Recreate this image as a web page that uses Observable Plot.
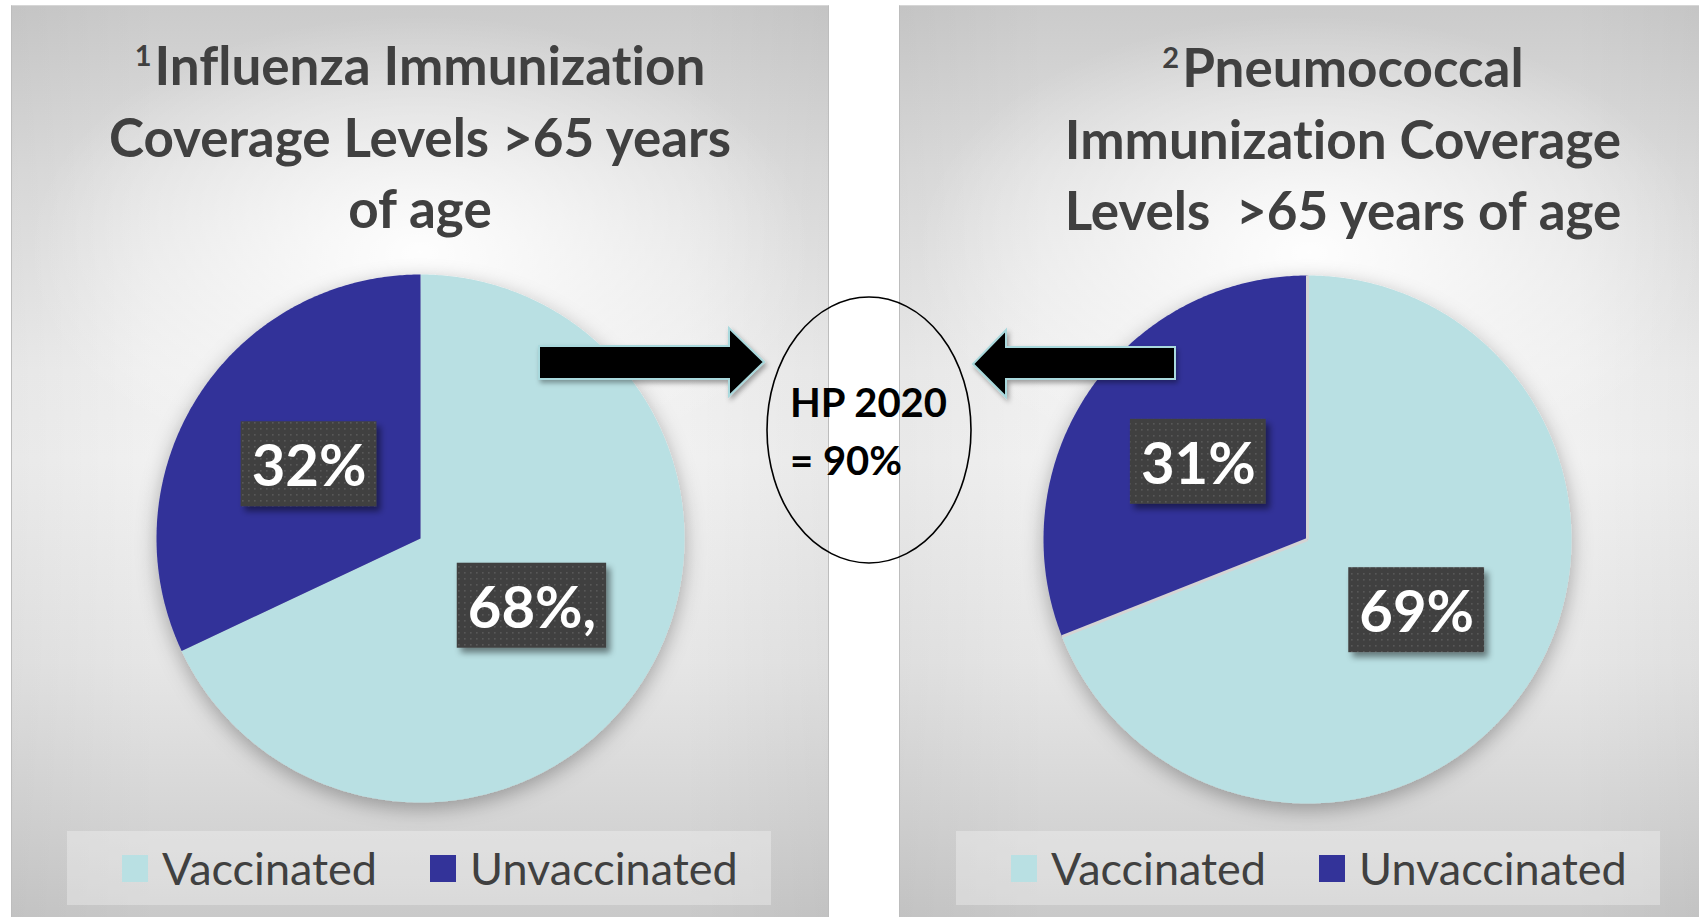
<!DOCTYPE html>
<html>
<head>
<meta charset="utf-8">
<script src="https://cdn.jsdelivr.net/npm/d3@7"></script>
<script src="https://cdn.jsdelivr.net/npm/@observablehq/plot@0.6"></script>
<style>
  html, body { margin: 0; padding: 0; background: #ffffff; }
  #root { position: relative; width: 1699px; height: 917px; overflow: hidden; font-family: Lato, "Noto Sans", sans-serif;
    font-variant-ligatures: none; font-feature-settings: "liga" 0, "clig" 0; }
  .panel {
    position: absolute; top: 5px; height: 912px; box-sizing: border-box;
    border-left: 1.5px solid #bdbdbd; border-top: 1px solid #d6d6d6;
    background:
      radial-gradient(ellipse 48% 26% at 50% 27%, rgba(255,255,255,0.95) 0%, rgba(255,255,255,0) 100%),
      linear-gradient(to right, rgba(0,0,0,0.035) 0%, rgba(0,0,0,0) 18%, rgba(0,0,0,0) 82%, rgba(0,0,0,0.035) 100%),
      linear-gradient(to bottom, #cbcbcb 0%, #dedede 18%, #efefef 40%, #f1f1f1 50%, #e6e6e6 72%, #d6d6d6 88%, #c9c9c9 100%);
  }
  .title {
    position: absolute; width: 820px; text-align: center; font-weight: 700; color: #404040;
    font-size: 53px; line-height: 71.5px; white-space: pre;
  }
  .title .line { height: 71.5px; }
  .title .sup { font-size: 29px; vertical-align: 19px; line-height: 0; margin-right: 3px; }
  .legend { position: absolute; top: 831px; width: 704px; height: 74px; background: rgba(255,255,255,0.3); }
  .legend .item { position: absolute; top: 0; height: 74px; display: flex; align-items: center; white-space: nowrap;
    font-size: 45px; color: #404040; font-weight: 400; }
  .legend .sw { width: 26px; height: 27px; margin-right: 14px; flex: none; }
  .pie { position: absolute; }
  .pie text { font-variant-ligatures: none; }
  #overlay { position: absolute; left: 0; top: 0; }
</style>
</head>
<body>
<div id="root"></div>
<script>
// ---------------- data ----------------
const categories = ["Vaccinated", "Unvaccinated"];
const categoryColors = ["#b9e0e3", "#333399"];
const influenzaValues = [68, 32];
const influenzaLabels = ["68%,", "32%"];
const pneumococcalValues = [69, 31];
const pneumococcalLabels = ["69%", "31%"];
const influenzaNote = "1";
const influenzaTitle = ["Influenza Immunization", "Coverage Levels >65 years", "of age"];
const pneumococcalNote = "2";
const pneumococcalTitle = ["Pneumococcal", "Immunization Coverage", "Levels  >65 years of age"];
const targetText = ["HP 2020", "= 90%"];

// ---------------- layout ----------------
const root = document.getElementById("root");

function addPanel(left, width, rightBorder) {
  const p = document.createElement("div");
  p.className = "panel";
  p.style.left = left + "px";
  p.style.width = width + "px";
  if (rightBorder) p.style.borderRight = "1.5px solid #bdbdbd";
  root.appendChild(p);
}
addPanel(11, 818, true);
addPanel(899, 820, false);

function addTitle(note, lines, centerX, top) {
  const t = document.createElement("div");
  t.className = "title";
  t.style.left = (centerX - 410) + "px";
  t.style.top = top + "px";
  lines.forEach((ln, i) => {
    const row = document.createElement("div");
    row.className = "line";
    if (i === 0) {
      const s = document.createElement("span");
      s.className = "sup";
      s.textContent = note;
      row.appendChild(s);
    }
    const tx = document.createElement("span");
    tx.textContent = ln;
    row.appendChild(tx);
    t.appendChild(row);
  });
  root.appendChild(t);
}
addTitle(influenzaNote, influenzaTitle, 420, 29);
addTitle(pneumococcalNote, pneumococcalTitle, 1343, 31);

let uid = 0;
function piePlot(values, labels, cx, cy, sliceStroke) {
  const R = 264, W = 660, H = 620;
  const id = uid++;
  const total = d3.sum(values);
  const rows = [], labelRows = [], edges = [];
  let cum = 0;
  values.forEach((v, i) => {
    const cat = categories[i];
    const a0 = cum / total * 2 * Math.PI, a1 = (cum + v) / total * 2 * Math.PI;
    const n = Math.max(2, Math.ceil((a1 - a0) / (Math.PI / 360)));
    rows.push({cat, x: 0, y: 0});
    for (let k = 0; k <= n; k++) {
      const a = a0 + (a1 - a0) * k / n;
      rows.push({cat, x: Math.sin(a), y: Math.cos(a)});
    }
    rows.push({cat, x: 0, y: 0});
    edges.push({cat, x1: 0, y1: 0, x2: Math.sin(a0), y2: Math.cos(a0)});
    const am = (a0 + a1) / 2;
    labelRows.push({cat, label: labels[i], x: 0.5 * Math.sin(am), y: 0.5 * Math.cos(am)});
    cum += v;
  });
  const marks = [
    Plot.line(rows, {x: "x", y: "y", z: "cat", fill: "cat", stroke: "none"})
  ];
  if (sliceStroke) marks.push(Plot.link(edges, {x1: "x1", y1: "y1", x2: "x2", y2: "y2", stroke: sliceStroke, strokeWidth: 3}));
  marks.push(Plot.text(labelRows, {x: "x", y: "y", text: "label", fill: "white", fontSize: 58, fontWeight: 700, fontFamily: "Lato, 'Noto Sans', sans-serif"}));
  const plot = Plot.plot({
    width: W, height: H, margin: 0,
    x: {domain: [-W / 2 / R, W / 2 / R], axis: null},
    y: {domain: [-H / 2 / R, H / 2 / R], axis: null},
    color: {domain: categories, range: categoryColors},
    style: {background: "transparent", overflow: "visible"},
    marks
  });
  plot.classList.add("pie");
  plot.style.left = (cx - W / 2) + "px";
  plot.style.top = (cy - H / 2) + "px";
  root.appendChild(plot);

  const ns = "http://www.w3.org/2000/svg";
  const defs = document.createElementNS(ns, "defs");
  defs.innerHTML = `
    <pattern id="dots${id}" width="6" height="6" patternUnits="userSpaceOnUse">
      <rect width="6" height="6" fill="#404040"/>
      <rect x="2" y="2" width="1.6" height="1.6" fill="#595959"/>
    </pattern>
    <filter id="pieShadow${id}" x="-20%" y="-20%" width="140%" height="140%">
      <feDropShadow dx="0" dy="6" stdDeviation="10" flood-color="#000" flood-opacity="0.3"/>
    </filter>
    <filter id="boxShadow${id}" x="-20%" y="-30%" width="150%" height="170%">
      <feDropShadow dx="4" dy="5" stdDeviation="3" flood-color="#000" flood-opacity="0.45"/>
    </filter>`;
  plot.insertBefore(defs, plot.firstChild);

  const lineGroup = plot.querySelector('g[aria-label="line"]');
  if (lineGroup) lineGroup.setAttribute("filter", `url(#pieShadow${id})`);

  const xs = plot.scale("x"), ys = plot.scale("y");
  const textGroup = plot.querySelector('g[aria-label="text"]');
  const boxGroup = document.createElementNS(ns, "g");
  boxGroup.setAttribute("filter", `url(#boxShadow${id})`);
  const texts = textGroup ? textGroup.querySelectorAll("text") : [];
  labelRows.forEach((d, i) => {
    const px = xs.apply(d.x), py = ys.apply(d.y);
    const w = texts[i] ? texts[i].getComputedTextLength() : 100;
    const r = document.createElementNS(ns, "rect");
    r.setAttribute("x", px - w / 2 - 10.5);
    r.setAttribute("y", py - 46);
    r.setAttribute("width", w + 21);
    r.setAttribute("height", 85);
    r.setAttribute("fill", `url(#dots${id})`);
    boxGroup.appendChild(r);
  });
  if (textGroup) plot.insertBefore(boxGroup, textGroup);
}
piePlot(influenzaValues, influenzaLabels, 420, 538, null);
piePlot(pneumococcalValues, pneumococcalLabels, 1307, 538.5, "#d4d4d4");

function addLegend(left) {
  const lg = document.createElement("div");
  lg.className = "legend";
  lg.style.left = left + "px";
  const offsets = [55, 363];
  categories.forEach((c, i) => {
    const it = document.createElement("div");
    it.className = "item";
    it.style.left = offsets[i] + "px";
    const sw = document.createElement("div");
    sw.className = "sw";
    sw.style.background = categoryColors[i];
    it.appendChild(sw);
    it.appendChild(document.createTextNode(c));
    lg.appendChild(it);
  });
  root.appendChild(lg);
}
addLegend(67);
addLegend(956);

// ---------------- annotation (arrows, ellipse, target) ----------------
const ov = document.createElementNS("http://www.w3.org/2000/svg", "svg");
ov.setAttribute("id", "overlay");
ov.setAttribute("width", 1699);
ov.setAttribute("height", 917);
ov.innerHTML = `
  <defs>
    <filter id="arrowShadow" x="-10%" y="-30%" width="120%" height="170%">
      <feDropShadow dx="2" dy="3" stdDeviation="2.5" flood-color="#000" flood-opacity="0.35"/>
    </filter>
  </defs>
  <g filter="url(#arrowShadow)" fill="#000" stroke="#a9d9dd" stroke-width="2" stroke-linejoin="miter">
    <polygon points="539,346 729,346 729,328 764,362 729,396 729,379 539,379"/>
    <polygon points="1175,347 1006,347 1006,330 973,364 1006,397 1006,379 1175,379"/>
  </g>
  <ellipse cx="869" cy="430" rx="102" ry="133" fill="none" stroke="#000" stroke-width="1.6"/>
  <g font-family="Lato, 'Noto Sans', sans-serif" font-weight="700" font-size="40" fill="#000">
    <text x="790" y="417">${targetText[0]}</text>
    <text x="790" y="475">${targetText[1]}</text>
  </g>`;
root.appendChild(ov);
</script>
</body>
</html>
